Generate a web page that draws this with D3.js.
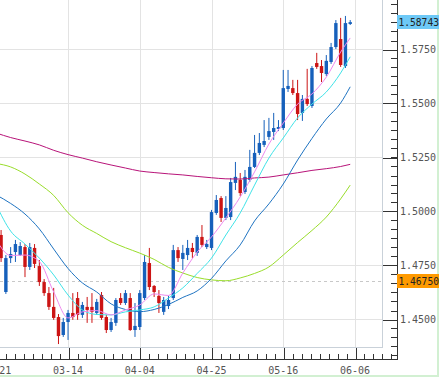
<!DOCTYPE html>
<html>
<head>
<meta charset="utf-8">
<script src="https://cdn.jsdelivr.net/npm/d3@7/dist/d3.min.js"></script>
<style>
  body { margin: 0; background: #fff; }
  svg { display: block; }
  text { font-family: "DejaVu Sans Mono", "Liberation Mono", monospace; font-size: 10px; }
</style>
</head>
<body>
<svg id="chart" width="439" height="377"></svg>
<script>
// daily candles, 02-18 .. 06-03 (index = trading day)
let opens = [1.4819, 1.4889, 1.4625, 1.4782, 1.4810, 1.4796, 1.4833, 1.4741, 1.4829, 1.4745,
  1.4671, 1.4620, 1.4556, 1.4509, 1.4426, 1.4486, 1.4528, 1.4597, 1.4519, 1.4556,
  1.4556, 1.4528, 1.4611, 1.4509, 1.4449, 1.4482, 1.4597, 1.4574, 1.4597, 1.4449,
  1.4463, 1.4597, 1.4759, 1.4653, 1.4607, 1.4533, 1.4560, 1.4597, 1.4819, 1.4778,
  1.4796, 1.4829, 1.4806, 1.4880, 1.4833, 1.4829, 1.4991, 1.5060, 1.4968, 1.4972,
  1.5130, 1.5144, 1.5088, 1.5144, 1.5204, 1.5269, 1.5306, 1.5343, 1.5366, 1.5380,
  1.5384, 1.5565, 1.5569, 1.5546, 1.5454, 1.5519, 1.5486, 1.5685, 1.5671, 1.5634,
  1.5690, 1.5759, 1.5796, 1.5671, 1.5866];

let highs = [1.4912, 1.4912, 1.4796, 1.4833, 1.4866, 1.4856, 1.4847, 1.4852, 1.4847, 1.4773,
  1.4685, 1.4648, 1.4644, 1.4523, 1.4505, 1.4542, 1.4620, 1.4625, 1.4579, 1.4602,
  1.4620, 1.4593, 1.4625, 1.4519, 1.4505, 1.4597, 1.4620, 1.4634, 1.4620, 1.4574,
  1.4634, 1.4796, 1.4829, 1.4657, 1.4634, 1.4602, 1.4607, 1.4843, 1.4833, 1.4843,
  1.4866, 1.4852, 1.4889, 1.4935, 1.4866, 1.5005, 1.5074, 1.5069, 1.5069, 1.5153,
  1.5227, 1.5176, 1.5190, 1.5283, 1.5352, 1.5361, 1.5421, 1.5431, 1.5454, 1.5421,
  1.5653, 1.5653, 1.5607, 1.5607, 1.5537, 1.5658, 1.5671, 1.5732, 1.5699, 1.5722,
  1.5778, 1.5884, 1.5894, 1.5903, 1.5884];

let lows = [1.4810, 1.4764, 1.4616, 1.4759, 1.4764, 1.4792, 1.4694, 1.4727, 1.4736, 1.4653,
  1.4607, 1.4542, 1.4496, 1.4384, 1.4417, 1.4403, 1.4496, 1.4496, 1.4505, 1.4482,
  1.4482, 1.4519, 1.4496, 1.4435, 1.4440, 1.4468, 1.4565, 1.4565, 1.4445, 1.4417,
  1.4449, 1.4588, 1.4634, 1.4602, 1.4528, 1.4519, 1.4546, 1.4588, 1.4764, 1.4727,
  1.4773, 1.4782, 1.4792, 1.4833, 1.4824, 1.4819, 1.4982, 1.4949, 1.4958, 1.4958,
  1.5097, 1.5069, 1.5079, 1.5134, 1.5199, 1.5259, 1.5296, 1.5329, 1.5329, 1.5370,
  1.5375, 1.5551, 1.5537, 1.5421, 1.5417, 1.5486, 1.5477, 1.5658, 1.5597, 1.5625,
  1.5681, 1.5750, 1.5667, 1.5662, 1.5861];

let closes = [1.4884, 1.4782, 1.4782, 1.4801, 1.4847, 1.4838, 1.4741, 1.4833, 1.4755, 1.4671,
  1.4620, 1.4556, 1.4505, 1.4421, 1.4486, 1.4528, 1.4509, 1.4519, 1.4565, 1.4542,
  1.4533, 1.4579, 1.4505, 1.4449, 1.4486, 1.4588, 1.4574, 1.4620, 1.4449, 1.4468,
  1.4620, 1.4764, 1.4648, 1.4625, 1.4574, 1.4588, 1.4588, 1.4819, 1.4782, 1.4806,
  1.4829, 1.4810, 1.4880, 1.4843, 1.4847, 1.4995, 1.5051, 1.4968, 1.5014, 1.5134,
  1.5158, 1.5083, 1.5158, 1.5204, 1.5269, 1.5315, 1.5324, 1.5370, 1.5384, 1.5389,
  1.5569, 1.5579, 1.5546, 1.5449, 1.5519, 1.5495, 1.5662, 1.5667, 1.5639, 1.5695,
  1.5759, 1.5870, 1.5676, 1.5870, 1.58743];

let maDays = [0, 3, 6, 9, 12, 15, 18, 21, 24, 27, 30, 33, 36, 39, 42, 45, 48, 51, 54, 57, 60, 63, 66, 69, 72, 74];
let ma5 = [1.4866, 1.4794, 1.4796, 1.4766, 1.4625, 1.4505, 1.4533, 1.4539, 1.4519, 1.4542, 1.4565, 1.4616, 1.4609,
  1.4713, 1.4810, 1.4880, 1.4968, 1.5065, 1.5181, 1.5310, 1.5407, 1.5495, 1.5542, 1.5620, 1.5736, 1.5801];
let ma10 = [1.5028, 1.4907, 1.4847, 1.4782, 1.4704, 1.4611, 1.4542, 1.4521, 1.4519, 1.4533, 1.4542, 1.4556, 1.4597,
  1.4644, 1.4711, 1.4782, 1.4889, 1.4991, 1.5120, 1.5245, 1.5338, 1.5431, 1.5495, 1.5551, 1.5639, 1.5714];
let ma20 = [1.5074, 1.5035, 1.4986, 1.4917, 1.4824, 1.4734, 1.4667, 1.4625, 1.4570, 1.4544, 1.4534, 1.4544, 1.4567,
  1.4600, 1.4630, 1.4688, 1.4769, 1.4843, 1.4954, 1.5033, 1.5125, 1.5236, 1.5336, 1.5426, 1.5500, 1.5575];
let ma60 = [1.5220, 1.5204, 1.5171, 1.5125, 1.5072, 1.4992, 1.4934, 1.4896, 1.4858, 1.4830, 1.4805, 1.4776, 1.4739,
  1.4713, 1.4692, 1.4681, 1.4677, 1.4690, 1.4711, 1.4741, 1.4796, 1.4854, 1.4910, 1.4972, 1.5056, 1.5120];
let ma120 = [1.5361, 1.5340, 1.5324, 1.5306, 1.5281, 1.5261, 1.5245, 1.5228, 1.5213, 1.5199, 1.5185, 1.5178, 1.5172,
  1.5167, 1.5160, 1.5154, 1.5149, 1.5148, 1.5153, 1.5157, 1.5167, 1.5177, 1.5188, 1.5196, 1.5206, 1.5216];

// axis labels
let tickDays = [0, 15, 30, 45, 60, 75];
let tickLabels = ["02-21", "03-14", "04-04", "04-25", "05-16", "06-06"];
let priceTicks = [1.4500, 1.4750, 1.5000, 1.5250, 1.5500, 1.5750];
let lastPrice = 1.58743;
let markPrice = 1.46750;

let svg = d3.select("#chart");

// plot box is 0..382 x 0..347, axes sit at x=397 / y=359
let plotW = 382, plotH = 347, axisX = 397, axisY = 359;

let x = d3.scaleLinear().domain([0, 75]).range([-3.7, 355]);
let y = d3.scaleLinear().domain([1.45, 1.575]).range([319, 49]);

svg.append("defs").append("clipPath").attr("id", "plotClip")
  .append("rect").attr("width", plotW).attr("height", plotH);

// light green outer edge (under the price tags)
svg.append("rect").attr("x", 0).attr("y", 375).attr("width", 439).attr("height", 2).attr("fill", "#d2f0d2");
svg.append("rect").attr("x", 437).attr("y", 0).attr("width", 2).attr("height", 377).attr("fill", "#d2f0d2");

// grid
let grid = svg.append("g").attr("shape-rendering", "crispEdges");
grid.selectAll(".hg").data(priceTicks).enter().append("line")
  .attr("x1", 0).attr("x2", plotW)
  .attr("y1", d => Math.round(y(d)) + 0.5).attr("y2", d => Math.round(y(d)) + 0.5)
  .attr("stroke", "#e3e3e3");
grid.selectAll(".vg").data(tickDays).enter().append("line")
  .attr("x1", d => Math.round(x(d)) + 0.5).attr("x2", d => Math.round(x(d)) + 0.5)
  .attr("y1", 0).attr("y2", plotH)
  .attr("stroke", "#e3e3e3");

// dashed level line
grid.append("line")
  .attr("x1", 0).attr("x2", plotW)
  .attr("y1", Math.round(y(markPrice)) + 0.5).attr("y2", Math.round(y(markPrice)) + 0.5)
  .attr("stroke", "#c8c8c8").attr("stroke-dasharray", "3,3");

let plot = svg.append("g").attr("clip-path", "url(#plotClip)");

// candles
let candles = opens.map((o, i) => ({ i: i, o: o, h: highs[i], l: lows[i], c: closes[i] }));
let candleColor = d => d.c >= d.o ? "#1660bb" : "#cc1414";

let cg = plot.selectAll(".candle").data(candles).enter().append("g");
cg.append("line")
  .attr("x1", d => x(d.i)).attr("x2", d => x(d.i))
  .attr("y1", d => y(d.h)).attr("y2", d => y(d.l))
  .attr("stroke", candleColor).attr("stroke-width", 1);
cg.append("rect")
  .attr("x", d => x(d.i) - 1.7)
  .attr("width", 3.4)
  .attr("y", d => y(Math.max(d.o, d.c)))
  .attr("height", d => Math.max(1, Math.abs(y(d.o) - y(d.c))))
  .attr("fill", candleColor);

// moving averages
let maLines = [
  { vals: ma120, color: "#b81479" },
  { vals: ma60, color: "#99dd2b" },
  { vals: ma20, color: "#1f74c2" },
  { vals: ma10, color: "#3fe3e8" },
  { vals: ma5, color: "#ee88ee" }
];
let lineGen = d3.line()
  .x(d => x(d[0]))
  .y(d => y(d[1]))
  .curve(d3.curveMonotoneX);

plot.selectAll(".ma").data(maLines).enter().append("path")
  .attr("d", m => lineGen(maDays.map((t, k) => [t, m.vals[k]])))
  .attr("fill", "none")
  .attr("stroke", m => m.color)
  .attr("stroke-width", 1);

// plot frame (right + bottom)
let frame = svg.append("g").attr("shape-rendering", "crispEdges");
frame.append("line").attr("x1", plotW + 0.5).attr("x2", plotW + 0.5).attr("y1", 0).attr("y2", plotH + 0.5)
  .attr("stroke", "#c9d1d9");
frame.append("line").attr("x1", 0).attr("x2", plotW + 0.5).attr("y1", plotH + 0.5).attr("y2", plotH + 0.5)
  .attr("stroke", "#c9d1d9");

// y axis on the right, ticks pointing into the gap
let minorPrice = d3.range(1.425, 1.6, 0.025 / 6).filter(v => y(v) >= 0 && y(v) <= axisY - 2);
let yMinor = d3.axisLeft(y).tickValues(minorPrice).tickSize(7).tickSizeOuter(0).tickFormat("");
let yMajor = d3.axisLeft(y).tickValues(priceTicks).tickSize(15).tickSizeOuter(0).tickFormat("");

svg.append("g").attr("transform", `translate(${axisX + 0.5},0)`).call(yMinor);
svg.append("g").attr("transform", `translate(${axisX + 0.5},0)`).call(yMajor);

// x axis along the bottom, ticks pointing up
let minorDays = d3.range(0, 84, 15 / 8);
let xMinor = d3.axisTop(x).tickValues(minorDays).tickSize(6).tickSizeOuter(0).tickFormat("");
let xMajor = d3.axisTop(x).tickValues(tickDays).tickSize(12).tickSizeOuter(0).tickFormat("");

svg.append("g").attr("transform", `translate(0,${axisY + 0.5})`).call(xMinor);
svg.append("g").attr("transform", `translate(0,${axisY + 0.5})`).call(xMajor);

svg.selectAll(".domain").remove();
svg.selectAll(".tick line").attr("stroke", "#333").attr("shape-rendering", "crispEdges");
svg.selectAll(".tick").each(function () {
  // snap ticks to whole pixels
  let t = d3.select(this).attr("transform");
  let m = t.match(/translate\(([-\d.]+),([-\d.]+)\)/);
  if (m) d3.select(this).attr("transform", `translate(${Math.round(+m[1]) + 0.5},${Math.round(+m[2]) + 0.5})`);
});

// axis lines
let ax = svg.append("g").attr("shape-rendering", "crispEdges").attr("stroke", "#333");
ax.append("line").attr("x1", axisX + 0.5).attr("x2", axisX + 0.5).attr("y1", 0).attr("y2", axisY + 0.5);
ax.append("line").attr("x1", 0).attr("x2", axisX + 0.5).attr("y1", axisY + 0.5).attr("y2", axisY + 0.5);

// price labels
svg.selectAll(".plabel").data(priceTicks).enter().append("text")
  .attr("x", axisX + 3)
  .attr("y", d => y(d))
  .attr("dy", "0.35em")
  .attr("fill", "#555")
  .text(d => d3.format(".4f")(d));

// date labels
svg.selectAll(".dlabel").data(tickDays).enter().append("text")
  .attr("x", d => x(d))
  .attr("y", 374)
  .attr("text-anchor", "middle")
  .attr("fill", "#555")
  .text((d, k) => tickLabels[k]);

// current price and marker boxes
let tags = [
  { v: lastPrice, fill: "#6ec9f7" },
  { v: markPrice, fill: "#ff9a00" }
];
let tg = svg.selectAll(".tag").data(tags).enter().append("g");
tg.append("rect")
  .attr("x", axisX)
  .attr("y", d => Math.round(y(d.v)) - 7)
  .attr("width", 439 - axisX)
  .attr("height", 14)
  .attr("fill", d => d.fill);
tg.append("text")
  .attr("x", axisX + 1.5)
  .attr("y", d => y(d.v))
  .attr("dy", "0.35em")
  .attr("fill", "#222")
  .style("font-size", "9.6px")
  .text(d => d3.format(".5f")(d.v));
</script>
</body>
</html>
